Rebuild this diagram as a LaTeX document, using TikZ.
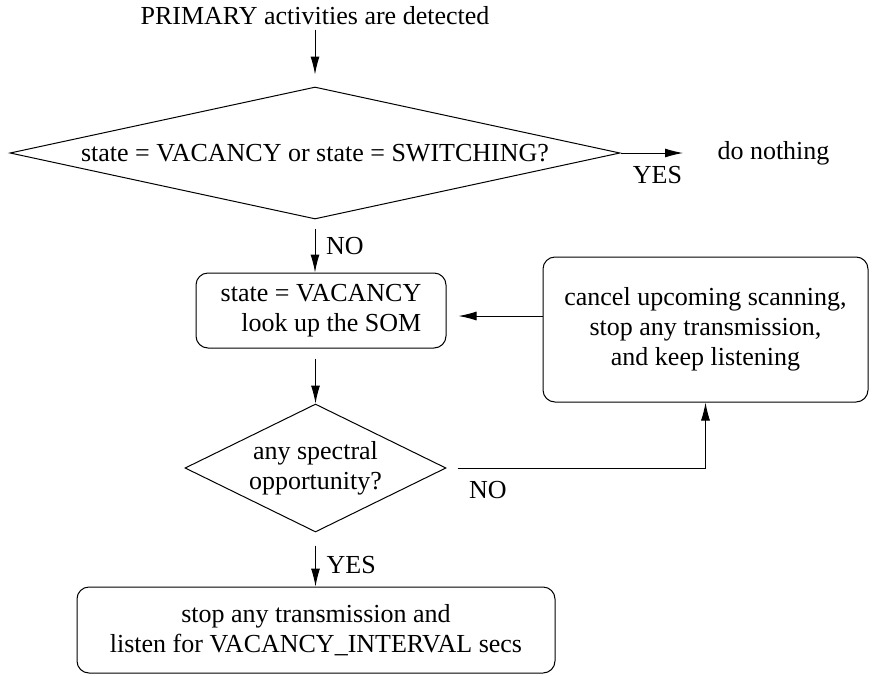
\documentclass[tikz,border=0pt]{standalone}
\usepackage{fontspec}
\setmainfont{Liberation Serif}
\usetikzlibrary{shapes.geometric,arrows.meta}

\begin{document}
\begin{tikzpicture}[
        x=0.5pt, y=-0.5pt,
        every path/.style={line width=0.5pt},
        font=\fontsize{13}{15}\selectfont,
        box/.style={draw,rounded corners=6pt,align=center},
        choice/.style={draw,diamond,inner sep=0pt,align=center},
        plain/.style={inner sep=2pt},
        arr/.style={-{Latex[length=9pt,width=4.5pt]}}
    ]
    \useasboundingbox (0,0) rectangle (873,675);

    \node [plain] (start) at (315,16) {PRIMARY activities are detected};
    \node [choice,aspect=4.6,minimum width=305pt,minimum height=66pt] (state) at (315,153)
        {state = VACANCY or state = SWITCHING?};
    \node [plain,anchor=west] (idle) at (713,153) {do nothing};
    \node [box,align=right,minimum width=125pt,minimum height=37.5pt] (lookup) at (321,310.5)
        {state = VACANCY\\look up the SOM};
    \node [box,minimum width=162.5pt,minimum height=72.5pt] (cancel) at (705.5,329.5)
        {cancel upcoming scanning,\\stop any transmission,\\and keep listening};
    \node [choice,aspect=2,minimum width=130.5pt,minimum height=64pt] (spectrum) at (315.5,468)
        {any spectral\\opportunity?};
    \node [box,minimum width=239pt,minimum height=43pt] (listen) at (316,630)
        {stop any transmission and\\listen for VACANCY\_INTERVAL secs};

    \draw [arr,shorten >=6pt] (start) -- (state);
    \draw [arr,shorten >=15pt] (state.east) -- (idle.west)
        node [pos=0.4,below=3pt] {YES};
    \draw [arr,shorten <=4.5pt] (state.south) -- (state.south |- lookup.north)
        node [midway,right=2pt] {NO};
    \draw [arr,shorten <=5pt] (lookup.south -| spectrum.north) -- (spectrum.north);
    \draw [arr,shorten <=6.5pt] (spectrum.south) -- (spectrum.south |- listen.north)
        node [pos=0.6,right=2pt] {YES};
    \draw [arr,shorten <=5.5pt] (spectrum.east) -| (cancel.south)
        node [pos=0.08,below=3pt] {NO};
    \draw [arr,shorten >=6pt] ([yshift=-2.75pt]lookup.east -| cancel.west) -- ([yshift=-2.75pt]lookup.east);
\end{tikzpicture}
\end{document}
